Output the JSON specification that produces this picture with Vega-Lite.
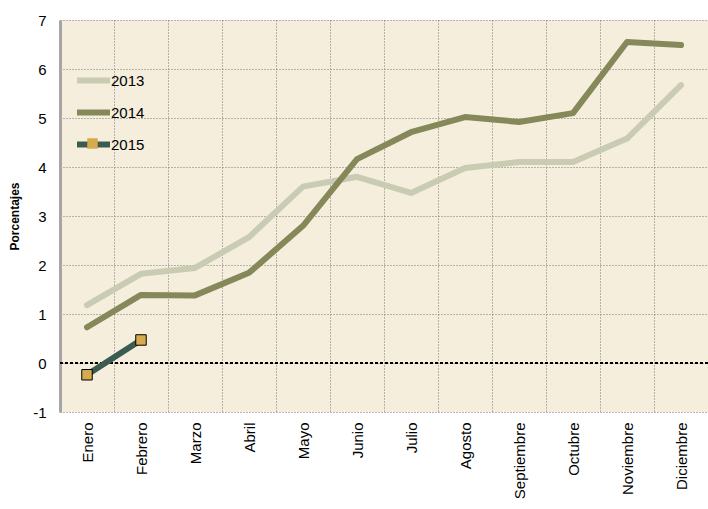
{
  "$schema": "https://vega.github.io/schema/vega-lite/v6.json",
  "width": 648,
  "height": 392,
  "autosize": {"type": "none"},
  "padding": {"left": 60, "top": 20, "right": 0, "bottom": 97},
  "background": "white",
  "config": {
    "font": "Liberation Sans",
    "view": {"fill": "#f5eedd", "stroke": null},
    "axis": {"labelFont": "Liberation Sans", "titleFont": "Liberation Sans", "labelColor": "#000", "titleColor": "#000"},
    "legend": {"labelFont": "Liberation Sans"}
  },
  "data": {
    "values": [
      {"mes": "Enero", "anio": "2013", "valor": 1.18},
      {"mes": "Febrero", "anio": "2013", "valor": 1.82},
      {"mes": "Marzo", "anio": "2013", "valor": 1.94},
      {"mes": "Abril", "anio": "2013", "valor": 2.57},
      {"mes": "Mayo", "anio": "2013", "valor": 3.6},
      {"mes": "Junio", "anio": "2013", "valor": 3.8},
      {"mes": "Julio", "anio": "2013", "valor": 3.47},
      {"mes": "Agosto", "anio": "2013", "valor": 3.98},
      {"mes": "Septiembre", "anio": "2013", "valor": 4.1},
      {"mes": "Octubre", "anio": "2013", "valor": 4.1},
      {"mes": "Noviembre", "anio": "2013", "valor": 4.58},
      {"mes": "Diciembre", "anio": "2013", "valor": 5.67},
      {"mes": "Enero", "anio": "2014", "valor": 0.73},
      {"mes": "Febrero", "anio": "2014", "valor": 1.39},
      {"mes": "Marzo", "anio": "2014", "valor": 1.38},
      {"mes": "Abril", "anio": "2014", "valor": 1.84},
      {"mes": "Mayo", "anio": "2014", "valor": 2.8},
      {"mes": "Junio", "anio": "2014", "valor": 4.16},
      {"mes": "Julio", "anio": "2014", "valor": 4.71},
      {"mes": "Agosto", "anio": "2014", "valor": 5.02},
      {"mes": "Septiembre", "anio": "2014", "valor": 4.92},
      {"mes": "Octubre", "anio": "2014", "valor": 5.1},
      {"mes": "Noviembre", "anio": "2014", "valor": 6.55},
      {"mes": "Diciembre", "anio": "2014", "valor": 6.49},
      {"mes": "Enero", "anio": "2015", "valor": -0.24},
      {"mes": "Febrero", "anio": "2015", "valor": 0.47}
    ]
  },
  "layer": [
    {
      "mark": {"type": "rule", "color": "black", "strokeWidth": 1, "strokeDash": [3, 2]},
      "encoding": {"y": {"datum": 0, "type": "quantitative"}}
    },
    {
      "mark": {"type": "line", "strokeWidth": 6, "strokeCap": "round", "strokeJoin": "round"},
      "encoding": {
        "x": {
          "field": "mes", "type": "nominal",
          "sort": ["Enero","Febrero","Marzo","Abril","Mayo","Junio","Julio","Agosto","Septiembre","Octubre","Noviembre","Diciembre"],
          "scale": {"paddingInner": 0, "paddingOuter": 0},
          "axis": {
            "title": null, "labelAngle": -90, "labelFontSize": 15, "labelPadding": 10,
            "ticks": false, "domain": false, "tickBand": "extent",
            "grid": true, "gridColor": "#777", "gridDash": [1, 2], "gridWidth": 1
          }
        },
        "y": {
          "field": "valor", "type": "quantitative",
          "scale": {"domain": [-1, 7], "nice": false, "zero": false},
          "axis": {
            "title": "Porcentajes", "titleFontSize": 12, "titleFontWeight": "bold", "titlePadding": 11,
            "labelFontSize": 15, "labelPadding": 14, "tickCount": 8, "ticks": false,
            "labelExpr": "'' + datum.value",
            "domain": true, "domainColor": "#a6a6a6", "domainWidth": 3,
            "grid": true, "gridColor": "#777", "gridDash": [1, 2], "gridWidth": 1
          }
        },
        "color": {
          "field": "anio", "type": "nominal",
          "scale": {"domain": ["2013", "2014", "2015"], "range": ["#c9ccb3", "#858859", "#3b5b50"]},
          "legend": {
            "title": null, "orient": "none", "legendX": 14, "legendY": 41,
            "symbolType": "stroke", "symbolSize": 1089, "symbolStrokeWidth": 6,
            "labelFontSize": 15, "labelOffset": -2, "rowPadding": 0, "labelColor": "#000"
          }
        }
      }
    },
    {
      "transform": [{"filter": "datum.anio == '2015'"}],
      "mark": {"type": "point", "filled": true, "size": 110, "fill": "#d6aa4e", "stroke": "black", "strokeWidth": 1, "opacity": 1},
      "encoding": {
        "x": {"field": "mes", "type": "nominal", "sort": ["Enero","Febrero","Marzo","Abril","Mayo","Junio","Julio","Agosto","Septiembre","Octubre","Noviembre","Diciembre"]},
        "y": {"field": "valor", "type": "quantitative"},
        "shape": {
          "datum": "2015", "type": "nominal",
          "scale": {"domain": ["2015"], "range": ["square"]},
          "legend": {
            "title": null, "orient": "none", "legendX": 25, "legendY": 116,
            "symbolSize": 110, "symbolFillColor": "#d6aa4e", "symbolStrokeColor": "black", "symbolStrokeWidth": 1,
            "labelExpr": "''", "labelFontSize": 15
          }
        }
      }
    }
  ]
}
